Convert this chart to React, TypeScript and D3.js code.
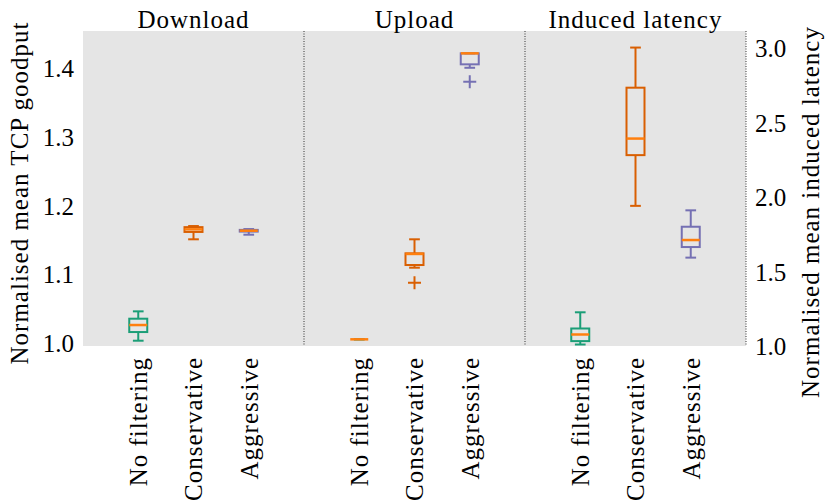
import React from "react";
import * as d3 from "d3";

const panels = ["Download", "Upload", "Induced latency"];
const categories = ["No filtering", "Conservative", "Aggressive"];
const colors = ["#1b9e77", "#d95f02", "#7570b3"];
const medianColor = "#ff7f0e";

const leftTicks = [1.0, 1.1, 1.2, 1.3, 1.4];
const rightTicks = [1.0, 1.5, 2.0, 2.5, 3.0];

// [low whisker, q1, median, q3, high whisker]
const downloadStats = [
  [1.0038, 1.0164, 1.0266, 1.0358, 1.0465],
  [1.1513, 1.162, 1.1658, 1.169, 1.1706],
  [1.158, 1.1625, 1.1638, 1.165, 1.1662],
];
const downloadFliers = [[], [], []];

const uploadStats = [
  [1.0058, 1.0058, 1.0058, 1.0058, 1.0058],
  [1.11, 1.1139, 1.13, 1.1309, 1.1513],
  [1.4008, 1.4058, 1.4218, 1.4218, 1.4218],
];
const uploadFliers = [[], [1.0881], [1.3805]];

const latencyStats = [
  [1.0147, 1.0375, 1.0818, 1.122, 1.2306],
  [1.944, 2.284, 2.395, 2.736, 3.005],
  [1.597, 1.668, 1.715, 1.804, 1.914],
];
const latencyFliers = [[], [], []];

const W = 830;
const H = 502;
const L = 83;
const R = 746;
const T = 31;
const B = 346;

const FONT = "Liberation Serif, DejaVu Serif, serif";

export default function App() {
  const xPanel = d3.scaleBand<string>().domain(panels).range([L, R]).padding(0);
  const xInner = d3
    .scalePoint<string>()
    .domain(categories)
    .range([0, xPanel.bandwidth()])
    .padding(1);
  const yLeft = d3.scaleLinear().domain([0.9961, 1.4543]).range([B, T]);
  const yRight = d3.scaleLinear().domain([1.0047, 3.116]).range([B, T]);

  const allStats = [downloadStats, uploadStats, latencyStats];
  const allFliers = [downloadFliers, uploadFliers, latencyFliers];
  const scales = [yLeft, yLeft, yRight];

  const boxW = 18;
  const capW = 10.7;
  const sw = 2;

  return (
    <svg
      width={W}
      height={H}
      style={{ position: "absolute", left: 0, top: 0 }}
      fontFamily={FONT}
    >
      <rect x={L} y={T} width={R - L} height={B - T} fill="#e5e5e5" />
      {panels.map((p, i) => (
        <line
          key={"sep" + i}
          x1={(xPanel(p) as number) + xPanel.bandwidth()}
          x2={(xPanel(p) as number) + xPanel.bandwidth()}
          y1={T}
          y2={B}
          stroke="#333"
          strokeWidth={1}
          strokeDasharray="1,1.5"
        />
      ))}
      {panels.map((p, i) => (
        <text
          key={"title" + i}
          x={(xPanel(p) as number) + xPanel.bandwidth() / 2}
          y={28}
          textAnchor="middle"
          fontSize={25}
          letterSpacing={1}
          fontFamily={FONT}
        >
          {p}
        </text>
      ))}
      {leftTicks.map((t) => (
        <text
          key={"lt" + t}
          x={74}
          y={yLeft(t)}
          dy="0.35em"
          textAnchor="end"
          fontSize={25}
          fontFamily={FONT}
        >
          {t.toFixed(1)}
        </text>
      ))}
      {rightTicks.map((t) => (
        <text
          key={"rt" + t}
          x={755}
          y={yRight(t)}
          dy="0.35em"
          textAnchor="start"
          fontSize={25}
          fontFamily={FONT}
        >
          {t.toFixed(1)}
        </text>
      ))}
      <text
        x={28}
        y={193}
        transform="rotate(-90, 28, 193)"
        textAnchor="middle"
        fontSize={25}
        letterSpacing={1}
        fontFamily={FONT}
      >
        Normalised mean TCP goodput
      </text>
      <text
        x={819}
        y={212}
        transform="rotate(-90, 819, 212)"
        textAnchor="middle"
        fontSize={25}
        letterSpacing={1}
        fontFamily={FONT}
      >
        Normalised mean induced latency
      </text>
      {panels.map((p, pi) =>
        categories.map((c, ci) => {
          const cx = (xPanel(p) as number) + (xInner(c) as number);
          return (
            <text
              key={"cl" + pi + ci}
              x={cx}
              y={357}
              dy="0.35em"
              transform={`rotate(-90, ${cx}, 357)`}
              textAnchor="end"
              fontSize={25}
              letterSpacing={1}
              fontFamily={FONT}
            >
              {c}
            </text>
          );
        })
      )}
      {panels.map((p, pi) =>
        categories.map((c, ci) => {
          const cx = (xPanel(p) as number) + (xInner(c) as number);
          const y = scales[pi];
          const [lo, q1, med, q3, hi] = allStats[pi][ci];
          const col = colors[ci];
          const fl = allFliers[pi][ci];
          return (
            <g key={"box" + pi + ci}>
              <line x1={cx} x2={cx} y1={y(hi)} y2={y(q3)} stroke={col} strokeWidth={sw} />
              <line x1={cx} x2={cx} y1={y(q1)} y2={y(lo)} stroke={col} strokeWidth={sw} />
              <line x1={cx - capW / 2} x2={cx + capW / 2} y1={y(hi)} y2={y(hi)} stroke={col} strokeWidth={sw} />
              <line x1={cx - capW / 2} x2={cx + capW / 2} y1={y(lo)} y2={y(lo)} stroke={col} strokeWidth={sw} />
              <rect
                x={cx - boxW / 2}
                y={y(q3)}
                width={boxW}
                height={Math.max(0, y(q1) - y(q3))}
                fill="none"
                stroke={col}
                strokeWidth={sw}
              />
              <line x1={cx - boxW / 2} x2={cx + boxW / 2} y1={y(med)} y2={y(med)} stroke={medianColor} strokeWidth={sw + 0.5} />
              {fl.map((f, fi) => (
                <g key={"f" + fi} stroke={col} strokeWidth={sw}>
                  <line x1={cx - 6.5} x2={cx + 6.5} y1={y(f)} y2={y(f)} />
                  <line x1={cx} x2={cx} y1={y(f) - 6.5} y2={y(f) + 6.5} />
                </g>
              ))}
            </g>
          );
        })
      )}
    </svg>
  );
}
